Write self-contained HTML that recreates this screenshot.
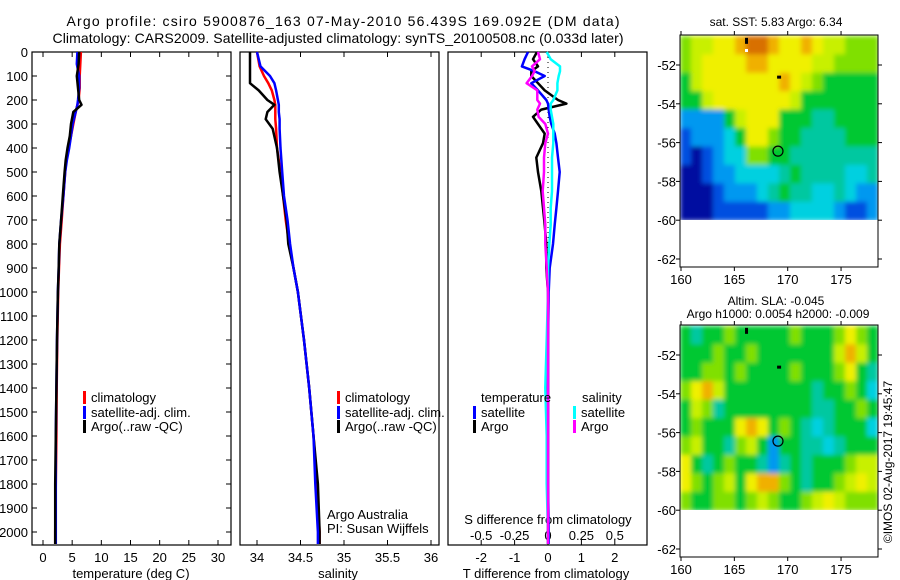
<!DOCTYPE html>
<html><head><meta charset="utf-8"><style>
body{margin:0;background:#fff;}
svg{display:block;font-family:"Liberation Sans",sans-serif;}
</style></head><body>
<svg id="c" width="900" height="580" viewBox="0 0 900 580">
<defs>
<filter id="blur" x="-5%" y="-5%" width="110%" height="110%"><feGaussianBlur stdDeviation="2.5" edgeMode="duplicate"/></filter>
<clipPath id="clipTop"><rect x="680" y="35" width="198" height="185"/></clipPath>
<clipPath id="clipBot"><rect x="680" y="325" width="198" height="185"/></clipPath>
</defs>
<text x="343" y="26" font-size="14" text-anchor="middle" textLength="553">Argo profile: csiro 5900876_163 07-May-2010 56.439S 169.092E (DM data)</text>
<text x="338" y="43" font-size="14" text-anchor="middle" textLength="571">Climatology: CARS2009. Satellite-adjusted climatology: synTS_20100508.nc (0.033d later)</text>
<g id="g"></g>
</svg>
<script>
// ---- data ----
const depthT=[0,50,100,150,200,220,250,300,350,400,450,500,600,700,800,900,1000,1200,1400,1600,1800,2000,2050];
const tempClim=[6.5,6.4,6.3,6.3,6.1,5.9,5.6,5.2,4.8,4.4,4.0,3.8,3.5,3.2,2.9,2.75,2.6,2.45,2.35,2.3,2.2,2.1,2.1];
const tempSat=[5.9,5.8,6.2,6.2,6.0,5.9,5.6,5.1,4.8,4.5,4.1,3.8,3.5,3.1,2.8,2.7,2.55,2.4,2.3,2.2,2.2,2.2,2.2];
const tempArgo=[6.2,6.1,5.8,6.0,6.2,6.6,5.2,4.8,4.6,4.2,3.9,3.7,3.4,3.1,2.8,2.7,2.55,2.4,2.3,2.2,2.1,2.1,2.1];
const depthS=[0,60,100,130,160,200,220,250,280,320,400,500,600,700,800,900,1000,1200,1400,1600,1800,2000,2050];
const salClim=[34.0,34.03,34.08,34.13,34.17,34.2,34.21,34.21,34.21,34.22,34.23,34.27,34.3,34.33,34.37,34.42,34.47,34.54,34.6,34.65,34.69,34.72,34.72];
const salSat=[34.0,34.04,34.15,34.2,34.22,34.24,34.25,34.25,34.26,34.26,34.27,34.29,34.31,34.35,34.38,34.42,34.47,34.54,34.6,34.65,34.67,34.7,34.7];
const salArgo=[33.92,33.92,33.92,33.92,34.02,34.12,34.2,34.12,34.1,34.18,34.23,34.26,34.3,34.34,34.36,34.42,34.47,34.54,34.6,34.65,34.7,34.72,34.72];
const depthD=[0,30,60,80,100,130,160,200,215,240,270,300,340,380,440,500,580,650,720,800,900,1000,1200,1400,1600,1800,2000,2050];
const tDiffSat=[-0.6,-0.7,-0.78,-0.4,-0.1,-0.5,-0.3,-0.05,0.0,0.02,0.05,0.1,0.2,0.25,0.3,0.35,0.3,0.25,0.2,0.15,0.05,0.02,0.0,0.0,0.0,0.0,0.02,0.02];
const tDiffArgo=[-0.33,-0.45,-0.3,-0.5,-0.5,-0.3,-0.1,0.3,0.55,-0.2,-0.45,-0.3,-0.1,-0.15,-0.35,-0.3,-0.2,-0.15,-0.1,-0.05,-0.05,0.0,0.0,0.0,0.0,0.0,0.0,0.0];
const sDiffArgo=[-0.075,-0.06,-0.12,-0.1,-0.12,-0.16,-0.08,-0.08,-0.06,-0.08,-0.07,-0.02,0.0,-0.02,-0.03,-0.03,-0.04,-0.03,-0.02,-0.02,-0.01,0.0,0.0,0.0,0.0,0.0,0.0,0.0];
const sDiffSat=[-0.01,0.02,0.09,0.09,0.08,0.07,0.07,0.04,0.02,0.02,0.03,0.04,0.04,0.04,0.03,0.03,0.03,0.02,0.02,0.01,0.0,0.0,-0.01,-0.02,-0.01,-0.01,0.0,0.0];
const depthTicks=[0,100,200,300,400,500,600,700,800,900,1000,1100,1200,1300,1400,1500,1600,1700,1800,1900,2000];
const tempTicks=[0,5,10,15,20,25,30];
const salTicks=[34,34.5,35,35.5,36];
const salTickLabels=["34","34.5","35","35.5","36"];
const tdTicks=[-2,-1,0,1,2];
const sdTicks=[-0.5,-0.25,0,0.25,0.5];
const sdTickLabels=["-0.5","-0.25","0","0.25","0.5"];
const latTicks=[-52,-54,-56,-58,-60,-62];
const lonTicks=[160,165,170,175];
const sstGrid=[
[6,7,7,8,8,9,10,10,9,8,8,9,8,7,7,6,6,6],
[6,7,8,8,8,8,9,9,8,8,8,8,7,7,6,6,6,6],
[5,7,8,8,8,8,8,8,8,9,8,7,6,5,5,5,5,5],
[5,5,7,8,8,8,8,8,8,8,7,5,5,5,5,5,5,5],
[2,2,2,2,5,7,8,8,8,5,5,5,4,4,5,5,5,5],
[1,2,2,2,3,5,8,8,6,5,5,4,4,4,4,5,5,5],
[1,0,1,2,3,3,6,6,5,5,4,4,4,4,4,4,4,4],
[0,0,1,2,2,3,3,3,3,4,5,4,4,4,4,3,3,4],
[0,0,0,1,2,2,2,3,4,5,4,4,3,3,4,3,2,2],
[0,0,0,1,1,1,1,1,2,2,3,3,3,3,2,1,1,2]];
const slaGrid=[
[5,4,5,5,6,5,5,5,5,5,6,5,5,5,6,8,6,5],
[5,5,5,6,5,5,6,5,5,5,5,5,5,5,7,9,7,5],
[5,5,6,6,5,6,5,5,5,5,6,5,5,5,6,8,5,4],
[6,8,9,7,5,5,5,5,5,5,5,5,4,5,5,6,5,3],
[5,7,6,4,5,5,5,5,5,5,5,5,4,4,5,5,6,5],
[5,6,5,5,5,8,9,8,5,6,5,4,3,4,5,5,5,3],
[6,7,5,5,4,6,7,5,2,5,5,4,4,3,4,5,5,5],
[8,5,4,5,6,5,5,4,2,4,5,4,5,5,5,6,7,7],
[8,6,5,6,7,5,8,9,9,6,5,4,5,5,6,7,8,7],
[6,5,5,6,6,5,6,7,6,5,5,6,7,8,7,6,6,6]];
const palette=["#0010a0","#0050e0","#0098f0","#00d0e0","#00c8a0","#00c830","#80e000","#c8f000","#f0f000","#f0b000","#d87000"];
const argoLon=169.09, argoLat=-56.44;

// ---- scales ----
const yD=d=>52+d*0.24;
const xT=t=>43+t*5.833;
const xS=s=>257+(s-34)*87;
const xTD=t=>548+t*33.4;
const xSD=s=>548+s*133.6;
const NS="http://www.w3.org/2000/svg";
const G=document.getElementById('g');
function mk(tag,at,parent){const e=document.createElementNS(NS,tag);for(const k in at)e.setAttribute(k,at[k]);(parent||G).appendChild(e);return e;}
function txt(x,y,s,anchor,size){const e=mk('text',{x:x,y:y,'font-size':size||13,'text-anchor':anchor||'start'});e.textContent=s;return e;}
function line(xs,ds,color,name){const p=xs.map((v,i)=>v.toFixed(1)+','+yD(ds[i]).toFixed(1)).join(' ');
 const e=mk('polyline',{points:p,fill:'none',stroke:color,'stroke-width':2.5,'stroke-linejoin':'round'});
 
 }

// panels
const panels=[[32,231],[240,439],[448,647]];
panels.forEach((p,i)=>{const r=mk('rect',{x:p[0],y:52,width:p[1]-p[0],height:493,fill:'none',stroke:'#000','stroke-width':1.2});
 
 });

// depth ticks
depthTicks.forEach(d=>{const y=yD(d);mk('line',{x1:32,x2:37,y1:y,y2:y,stroke:'#000'});mk('line',{x1:226,x2:231,y1:y,y2:y,stroke:'#000'});
 const t=txt(28,y+5,String(d),'end');});

function xticks(vals,labels,fx){vals.forEach((v,i)=>{const x=fx(v);mk('line',{x1:x,x2:x,y1:52,y2:57,stroke:'#000'});mk('line',{x1:x,x2:x,y1:540,y2:545,stroke:'#000'});
 const t=txt(x,562,labels[i],'middle');});}
xticks(tempTicks,tempTicks.map(String),xT);
xticks(salTicks,salTickLabels,xS);
xticks(tdTicks,tdTicks.map(String),xTD);
sdTicks.forEach((v,i)=>{const t=txt(xSD(v),540,sdTickLabels[i],'middle');});

let a;
a=txt(131,578,'temperature (deg C)','middle');
a=txt(338,578,'salinity','middle');
a=txt(546,578,'T difference from climatology','middle');
a=txt(548,524,'S difference from climatology','middle');

// profiles
line(tempClim.map(xT),depthT,'#f00','temp-climatology-line');
line(tempSat.map(xT),depthT,'#00f','temp-satellite-line');
line(tempArgo.map(xT),depthT,'#000','temp-argo-line');
line(salClim.map(xS),depthS,'#f00','sal-climatology-line');
line(salArgo.map(xS),depthS,'#000','sal-argo-line');
line(salSat.map(xS),depthS,'#00f','sal-satellite-line');
mk('line',{x1:548,x2:548,y1:52,y2:545,stroke:'#000','stroke-dasharray':'1,4'});
line(tDiffArgo.map(xTD),depthD,'#000','t-diff-argo-line');
line(tDiffSat.map(xTD),depthD,'#00f','t-diff-satellite-line');
line(sDiffSat.map(xSD),depthD,'#0ff','s-diff-satellite-line');
line(sDiffArgo.map(xSD),depthD,'#f0f','s-diff-argo-line');

// legends
function leg(x,y,color,label,name){mk('rect',{x:x,y:y-6,width:3,height:13,fill:color});const t=txt(x+8,y+5,label);
 }
leg(83,397,'#f00','climatology','legend-climatology');
leg(83,412,'#00f','satellite-adj. clim.','legend-satellite-adj');
leg(83,426,'#000','Argo(..raw -QC)','legend-argo');
leg(337,397,'#f00','climatology','legend-climatology-2');
leg(337,412,'#00f','satellite-adj. clim.','legend-satellite-adj-2');
leg(337,426,'#000','Argo(..raw -QC)','legend-argo-2');
a=txt(481,402,'temperature');
a=txt(582,402,'salinity');
leg(473,412,'#00f','satellite','legend-t-satellite');
leg(473,426,'#000','Argo','legend-t-argo');
leg(573,412,'#0ff','satellite','legend-s-satellite');
leg(573,426,'#f0f','Argo','legend-s-argo');
a=txt(327,519,'Argo Australia');
a=txt(327,533,'PI: Susan Wijffels');

// maps
function map(top,grid,name,clipId){
 const L=680,R=878,B=top+232;
 const lx=lon=>681+(lon-160)*10.67;
 const ly=lat=>top+30+(-52-lat)*19.4;
 const y0=ly(-50.5),y1=ly(-60);
 const rows=grid.length,cols=grid[0].length;
 const ch=(y1-y0)/rows, cw=(R-L)/cols;
 const clipG=mk('g',{'clip-path':'url(#'+clipId+')'});
 const cg=mk('g',{filter:'url(#blur)'},clipG);
 grid.forEach((row,r)=>row.forEach((v,c)=>{const e=mk('rect',{x:(L+c*cw).toFixed(2),y:(y0+r*ch).toFixed(2),width:(cw+0.6).toFixed(2),height:(ch+0.6).toFixed(2),fill:palette[v]},cg);
  
  }));
 const f=mk('rect',{x:L,y:top,width:R-L,height:B-top,fill:'none',stroke:'#000'});
 
 latTicks.forEach(lat=>{const y=ly(lat);mk('line',{x1:L-4,x2:L,y1:y,y2:y,stroke:'#000'});mk('line',{x1:R,x2:R+4,y1:y,y2:y,stroke:'#000'});
  const t=txt(676,y+5,String(lat),'end');});
 lonTicks.forEach(lon=>{const x=lx(lon);mk('line',{x1:x,x2:x,y1:top-4,y2:top,stroke:'#000'});mk('line',{x1:x,x2:x,y1:B,y2:B+4,stroke:'#000'});
  const t=txt(x,B+17,String(lon),'middle');});
 mk('circle',{cx:lx(argoLon),cy:ly(argoLat),r:5,fill:'none',stroke:'#000','stroke-width':1.2});
 mk('rect',{x:lx(166.0),y:ly(-50.6),width:3,height:6,fill:'#000'});
 mk('rect',{x:lx(169.1)-1,y:ly(-52.6)-1,width:4,height:3,fill:'#000'});
}
map(35,sstGrid,'sst-map','clipTop');
mk('rect',{x:745,y:49,width:3,height:3,fill:'#fff'});
map(325,slaGrid,'sla-map','clipBot');
a=txt(776,26,'sat. SST: 5.83 Argo: 6.34','middle',12);
a=txt(776,305,'Altim. SLA: -0.045','middle',12);
a=txt(778,318,'Argo h1000: 0.0054 h2000: -0.009','middle',12);
a=txt(0,0,'©IMOS 02-Aug-2017 19:45:47','middle',12);a.setAttribute('transform','translate(892,462) rotate(-90)');

</script>
</body></html>
